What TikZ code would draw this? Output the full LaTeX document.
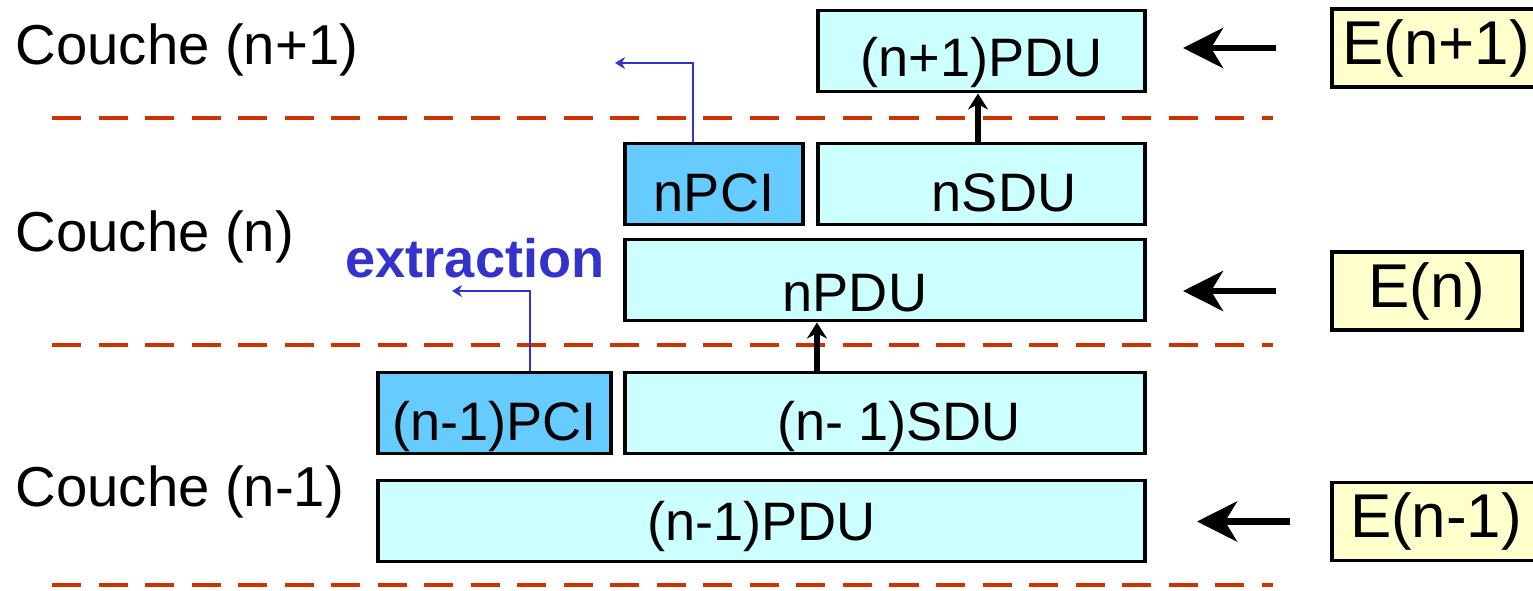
\documentclass[tikz,border=0pt]{standalone}
\usepackage{fontspec}
\setmainfont{Liberation Sans}
\usetikzlibrary{arrows.meta}
\definecolor{pdufill}{HTML}{CCFFFF}
\definecolor{pcifill}{HTML}{66CCFF}
\definecolor{entfill}{HTML}{FFFFCC}
\definecolor{layerred}{HTML}{CC3300}
\definecolor{extblue}{HTML}{3333CC}

\begin{document}
\begin{tikzpicture}[x=0.01cm, y=-0.01cm,
    txt/.style={font=\fontsize{15.4pt}{18pt}\selectfont, inner sep=0pt},
    layername/.style={font=\fontsize{16pt}{19pt}\selectfont, inner sep=0pt, anchor=west},
    unit/.style={txt, draw, line width=1.1pt, fill=pdufill, minimum height=0.81cm,
        text height=0.6cm, text depth=0.05cm},
    pci/.style={unit, fill=pcifill},
    entity/.style={draw, line width=1.1pt, fill=entfill, minimum height=0.78cm,
        font=\fontsize{17.6pt}{20pt}\selectfont, inner sep=0pt},
    layer/.style={draw=layerred, line width=1.4pt, dash pattern=on 0.29cm off 0.175cm},
    bigarrow/.style={line width=1.8pt, -{Stealth[length=0.4cm, width=0.4cm, inset=0.12cm]}},
    uparrow/.style={line width=1.5pt, -{Stealth[length=0.16cm, width=0.2cm]}},
    extract/.style={draw=extblue, line width=0.8pt, -{Stealth[length=0.1cm, width=0.12cm]}}]
    \useasboundingbox (0,0) rectangle (1533,591);

    % layer boundaries
    \foreach \y in {118, 345, 585}
        \draw[layer] (52,\y) -- (1273,\y);

    % layer names
    \node[layername] (c1) at (15,50) {Couche (n+1)};
    \node[layername] (c0) at (15,237) {Couche (n)};
    \node[layername] (cm1) at (15,492) {Couche (n-1)};

    % data units
    \node[unit, minimum width=3.27cm] (np1pdu) at (981.5,51) {\raisebox{0.02cm}{(n+1)PDU}};
    \node[pci, minimum width=1.78cm] (npci) at (714,184) {nPCI};
    \node[unit, minimum width=3.27cm] (nsdu) at (981.5,184) {\hspace{0.45cm}nSDU};
    \node[unit, minimum width=5.20cm] (npdu) at (885,280) {\raisebox{-0.04cm}{nPDU\hspace{0.6cm}}};
    \node[pci, minimum width=2.33cm] (nm1pci) at (494.5,413) {(n-1)PCI};
    \node[unit, minimum width=5.20cm] (nm1sdu) at (885,413) {\hspace{0.28cm}(n- 1)SDU};
    \node[unit, minimum width=7.67cm] (nm1pdu) at (761.5,521) {\raisebox{0.08cm}{(n-1)PDU}};

    % entities
    \node[entity, minimum width=2.08cm] (ep1) at (1436,48) {E(n+1)};
    \node[entity, minimum width=1.90cm] (e0) at (1427,291) {E(n)};
    \node[entity, minimum width=2.08cm] (em1) at (1436,521.5) {E(n-1)};

    \draw[bigarrow] ([xshift=-0.54cm]ep1.west) -- ++(-93,0);
    \draw[bigarrow] ([xshift=-0.54cm]e0.west) -- ++(-93,0);
    \draw[bigarrow] ([xshift=-0.40cm]em1.west) -- ++(-93,0);

    % encapsulation
    \draw[uparrow] ([xshift=-0.035cm]nsdu.north) -- ([xshift=-0.035cm]np1pdu.south);
    \draw[uparrow] ([xshift=-0.68cm]nm1sdu.north) -- ([xshift=-0.68cm]npdu.south);

    % extraction
    \node[txt, font=\fontsize{15.4pt}{18pt}\selectfont\bfseries, text=extblue] (ext) at (475,258) {extraction};
    \coordinate (x1) at (615,63);
    \coordinate (x0) at (452,291);
    \draw[extract] ([xshift=-0.21cm]npci.north) |- (x1);
    \draw[extract] ([xshift=0.355cm]nm1pci.north) |- (x0);
\end{tikzpicture}
\end{document}
